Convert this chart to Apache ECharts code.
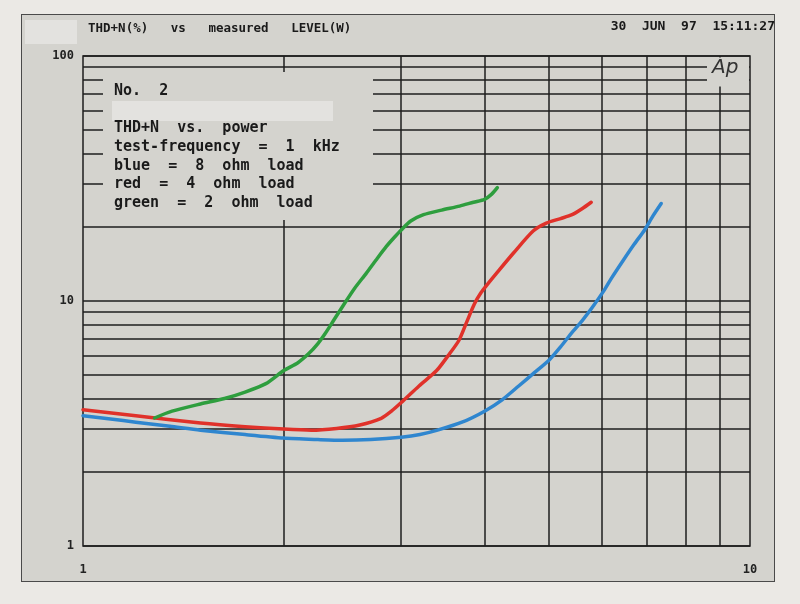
<!DOCTYPE html>
<html><head><meta charset="utf-8">
<script src="https://cdn.jsdelivr.net/npm/echarts@6/dist/echarts.min.js"></script>
<style>
html,body{margin:0;padding:0;background:#ebe9e5;}
#frame{position:absolute;left:21px;top:14px;width:752px;height:566px;background:#d4d3ce;border:1.5px solid #4a4a4a;}
#c{position:absolute;left:0;top:0;width:800px;height:604px;}
</style>
</head><body><div id="frame"></div><div id="c"></div>
<script>
// Blue = 8 ohm load
const blueX = [1.0, 1.1, 1.2, 1.35, 1.5, 1.75, 2.0, 2.25, 2.45, 2.7, 3.0, 3.2, 3.4, 3.7, 4.0, 4.25, 4.5, 4.75, 5.0, 5.2, 5.4, 5.6, 5.8, 6.05, 6.2, 6.45, 6.7, 6.95, 7.15, 7.36];
const blueY = [3.4, 3.3, 3.2, 3.08, 2.97, 2.85, 2.76, 2.72, 2.7, 2.72, 2.78, 2.85, 2.97, 3.2, 3.55, 3.95, 4.5, 5.1, 5.75, 6.5, 7.4, 8.3, 9.4, 11.1, 12.4, 14.6, 17.0, 19.5, 22.2, 25.0];
// Red = 4 ohm load
const redX = [1.0, 1.2, 1.5, 1.75, 2.0, 2.2, 2.4, 2.6, 2.8, 2.9, 3.0, 3.19, 3.39, 3.53, 3.66, 3.76, 3.86, 3.95, 4.05, 4.17, 4.42, 4.73, 4.95, 5.2, 5.41, 5.6, 5.78];
const redY = [3.6, 3.4, 3.18, 3.07, 3.0, 2.97, 3.02, 3.12, 3.32, 3.55, 3.85, 4.5, 5.2, 6.0, 6.9, 8.2, 9.7, 10.8, 11.8, 13.0, 15.7, 19.3, 20.8, 21.7, 22.5, 23.8, 25.3];
// Green = 2 ohm load
const greenX = [1.28, 1.36, 1.5, 1.63, 1.75, 1.88, 2.0, 2.1, 2.18, 2.25, 2.31, 2.38, 2.45, 2.55, 2.66, 2.75, 2.85, 2.93, 3.0, 3.1, 3.24, 3.45, 3.67, 3.85, 4.0, 4.1, 4.18];
const greenY = [3.33, 3.55, 3.8, 4.0, 4.25, 4.6, 5.2, 5.6, 6.1, 6.7, 7.4, 8.4, 9.5, 11.2, 13.0, 14.7, 16.7, 18.2, 19.5, 21.2, 22.5, 23.5, 24.4, 25.3, 26.0, 27.3, 29.0];
// Minor grid values
const gridXVals = [2, 3, 4, 5, 6, 7, 8, 9];
const gridYVals = [2, 3, 4, 5, 6, 7, 8, 9, 20, 30, 40, 50, 60, 70, 80, 90];
// Texts
const titleText = 'THD+N(%)   vs   measured   LEVEL(W)';
const dateText = '30  JUN  97  15:11:27';
const noteLines = ['No.  2', '', 'THD+N  vs.  power', 'test-frequency  =  1  kHz', 'blue  =  8  ohm  load', 'red  =  4  ohm  load', 'green  =  2  ohm  load'];

const zip = (xs, ys) => xs.map((x, i) => [x, ys[i]]);
const MONO = '"DejaVu Sans Mono", "Liberation Mono", monospace';
const BG = '#d4d3ce';
const INK = '#1e1e1e';

const chart = echarts.init(document.getElementById('c'), null, {renderer: 'canvas'});
const curve = (name, xs, ys, color) => ({
  name, type: 'line', data: zip(xs, ys), showSymbol: false, smooth: 0.25, z: 3,
  lineStyle: {color, width: 3.5, cap: 'round', join: 'round'}, itemStyle: {color}, animation: false
});
chart.setOption({
  backgroundColor: 'transparent',
  animation: false,
  grid: {left: 83, top: 56, right: 50, bottom: 58, show: true, borderColor: INK, borderWidth: 1.5, backgroundColor: 'transparent'},
  xAxis: {
    type: 'log', logBase: 10, min: 1, max: 10,
    axisLine: {show: false}, axisTick: {show: false}, splitLine: {show: false},
    axisLabel: {margin: 18, color: '#222', fontFamily: MONO, fontWeight: 'bold', fontSize: 12, formatter: v => String(v)}
  },
  yAxis: {
    type: 'log', logBase: 10, min: 1, max: 100,
    axisLine: {show: false}, axisTick: {show: false},
    splitLine: {show: true, lineStyle: {color: INK, width: 1.5}},
    axisLabel: {margin: 9, color: '#222', fontFamily: MONO, fontWeight: 'bold', fontSize: 12, formatter: v => String(v)}
  },
  series: [
    {
      name: 'grid', type: 'line', data: [], silent: true, z: 1,
      markLine: {
        z: 1, silent: true, symbol: 'none', animation: false,
        label: {show: false},
        lineStyle: {color: INK, width: 1.5, type: 'solid'},
        emphasis: {disabled: true},
        data: gridYVals.map(v => ({yAxis: v})).concat(gridXVals.map(v => ({xAxis: v})))
      }
    },
    curve('blue = 8 ohm load', blueX, blueY, '#2f86cf'),
    curve('red = 4 ohm load', redX, redY, '#e0312a'),
    curve('green = 2 ohm load', greenX, greenY, '#2e9e3e')
  ],
  graphic: [
    // mask behind the note text box
    {type: 'rect', z: 2, shape: {x: 103, y: 72, width: 270, height: 148}, style: {fill: BG}},
    // mask behind Ap logo
    {type: 'rect', z: 2, shape: {x: 707, y: 57.5, width: 42, height: 29}, style: {fill: BG}},
    {type: 'text', z: 5, left: 712, top: 58, style: {text: 'Ap', font: 'italic 300 20px "DejaVu Sans", sans-serif', fill: '#333'}},
    // top-left redaction box
    {type: 'rect', z: 5, shape: {x: 25, y: 20, width: 52, height: 24}, style: {fill: '#e3e2df'}},
    {type: 'text', z: 5, left: 88, top: 22, style: {text: titleText, font: 'bold 12.5px ' + MONO, fill: '#1a1a1a'}},
    {type: 'text', z: 5, right: 25, top: 20, style: {text: dateText, font: 'bold 13px ' + MONO, fill: '#1a1a1a'}},
    // note redaction box
    {type: 'rect', z: 5, shape: {x: 112, y: 101, width: 221, height: 20}, style: {fill: '#e3e2df'}},
    {type: 'text', z: 5, left: 114, top: 82, style: {text: noteLines.join('\n'), font: 'bold 15px ' + MONO, lineHeight: 18.6, fill: '#1a1a1a'}}
  ]
});
</script>
</body></html>
